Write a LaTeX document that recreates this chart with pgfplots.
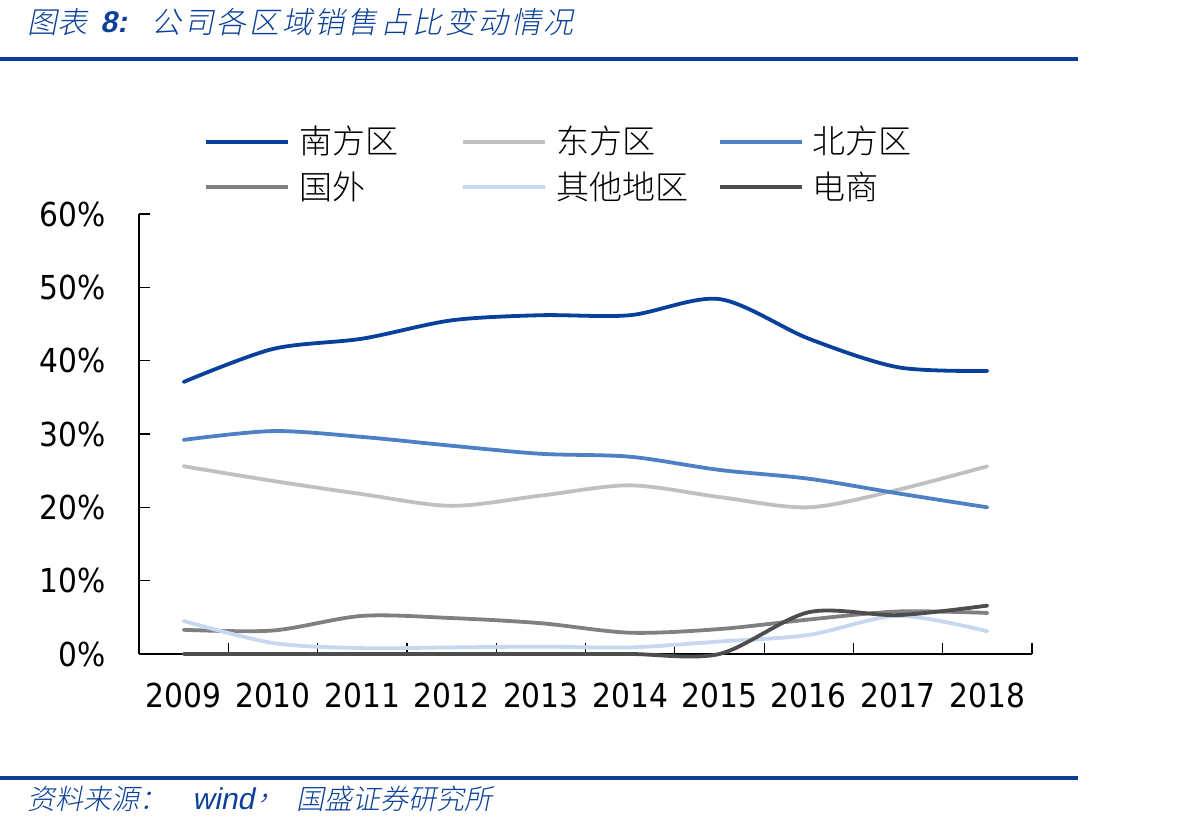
\documentclass[border=0pt]{standalone}
\usepackage{pgfplots}
\pgfplotsset{compat=1.18}
\usepackage{fontspec}
\setmainfont{DejaVu Sans Condensed}
\newfontfamily\cjk{Noto Sans CJK SC Light}
\newfontfamily\cjkit{Noto Sans CJK SC Light}[FakeSlant=0.2]
\newfontfamily\cjkitsp{Noto Sans CJK SC Light}[FakeSlant=0.2, LetterSpace=9]
\newfontfamily\latit{Liberation Sans}[FakeSlant=0.2]
\definecolor{cSouth}{RGB}{8,65,155}
\definecolor{cEast}{RGB}{192,192,192}
\definecolor{cNorth}{RGB}{78,128,198}
\definecolor{cAbroad}{RGB}{128,128,128}
\definecolor{cOther}{RGB}{198,215,239}
\definecolor{cEcom}{RGB}{77,77,77}
\definecolor{titleblue}{RGB}{12,64,152}
\begin{document}
\begin{tikzpicture}
\path[use as bounding box] (0pt,0pt) rectangle (590pt,415pt);
% title
\begin{scope}[every node/.style={anchor=west, text=titleblue, inner sep=0pt, font=\fontsize{15}{15}\selectfont}]
\node at (13.5pt,404pt) {\cjkit 图表};
\node at (50pt,404pt) {\latit\bfseries 8:};
\node at (75.5pt,404pt) {\cjkitsp 公司各区域销售占比变动情况};
\end{scope}
\fill[titleblue] (0pt,384.5pt) rectangle (539pt,386.5pt);
\fill[titleblue] (0pt,25pt) rectangle (539pt,27pt);
\begin{scope}[every node/.style={anchor=west, text=titleblue, inner sep=0pt, font=\fontsize{14}{14}\selectfont}]
\node at (13.5pt,15.5pt) {\cjkit 资料来源：};
\node at (96pt,15.5pt) {\fontsize{15}{15}\selectfont\latit wind};
\node at (129pt,15.5pt) {\cjkit ，};
\node at (148pt,15.5pt) {\cjkit 国盛证券研究所};
\end{scope}
\begin{axis}[
  at={(69.5pt,88pt)}, anchor=south west,
  scale only axis, width=446.5pt, height=220pt,
  xmin=-0.5, xmax=9.5, ymin=0, ymax=60,
  axis lines*=left,
  axis line style={line width=0.6pt, black},
  clip=false,
  xtick={0,...,9},
  xticklabels={2009,2010,2011,2012,2013,2014,2015,2016,2017,2018},
  major x tick style={draw=none},
  minor xtick={0.5,1.5,...,9.5},
  minor tick length=5.5pt,
  major tick length=5.5pt,
  tick align=inside,
  tick style={line width=0.6pt, black},
  ytick={0,10,...,60},
  yticklabels={0\%,10\%,20\%,30\%,40\%,50\%,60\%},
  tick label style={font=\fontsize{16.5}{16.5}\selectfont},
  yticklabel style={anchor=east, inner sep=0pt, xshift=-16.5pt},
  xticklabel style={anchor=north, inner sep=0pt, yshift=-14.5pt},
  every axis plot/.append style={line width=1.9pt, smooth, line cap=round, no marks},
  legend style={draw=none, fill=none, at={(0.0661,1.2094)}, anchor=north west,
    legend columns=3,
    nodes={inner sep=0pt, font=\cjk\fontsize{16.5}{16.5}\selectfont},
    /tikz/every odd column/.append style={column sep=4.5pt},
    /tikz/every even column/.append style={column sep=7pt},
    row sep=7.5pt},
  legend image code/.code={\draw[#1, line cap=butt] (0pt,0pt) -- (41pt,0pt);},
]
\addplot[cSouth] coordinates {(0,37.1) (1,41.6) (2,43.0) (3,45.5) (4,46.2) (5,46.2) (6,48.4) (7,43.0) (8,39.1) (9,38.6)};
\addlegendentry{\makebox[74pt][l]{南方区}}
\addplot[cEast] coordinates {(0,25.6) (1,23.6) (2,21.8) (3,20.2) (4,21.6) (5,23.0) (6,21.4) (7,20.0) (8,22.4) (9,25.6)};
\addlegendentry{\makebox[74pt][l]{东方区}}
\addplot[cNorth] coordinates {(0,29.2) (1,30.4) (2,29.6) (3,28.4) (4,27.3) (5,26.9) (6,25.1) (7,23.9) (8,21.9) (9,20.0)};
\addlegendentry{\makebox[74pt][l]{北方区}}
\addplot[cAbroad] coordinates {(0,3.3) (1,3.2) (2,5.2) (3,4.9) (4,4.2) (5,2.9) (6,3.4) (7,4.7) (8,5.8) (9,5.6)};
\addlegendentry{\makebox[74pt][l]{国外}}
\addplot[cOther] coordinates {(0,4.5) (1,1.5) (2,0.8) (3,0.9) (4,1.0) (5,0.9) (6,1.7) (7,2.6) (8,5.2) (9,3.1)};
\addlegendentry{\makebox[74pt][l]{其他地区}}
\addplot[cEcom] coordinates {(0,0) (1,0) (2,0) (3,0) (4,0) (5,0) (6,0) (7,5.7) (8,5.3) (9,6.6)};
\addlegendentry{\makebox[74pt][l]{电商}}
\end{axis}
\end{tikzpicture}
\end{document}
